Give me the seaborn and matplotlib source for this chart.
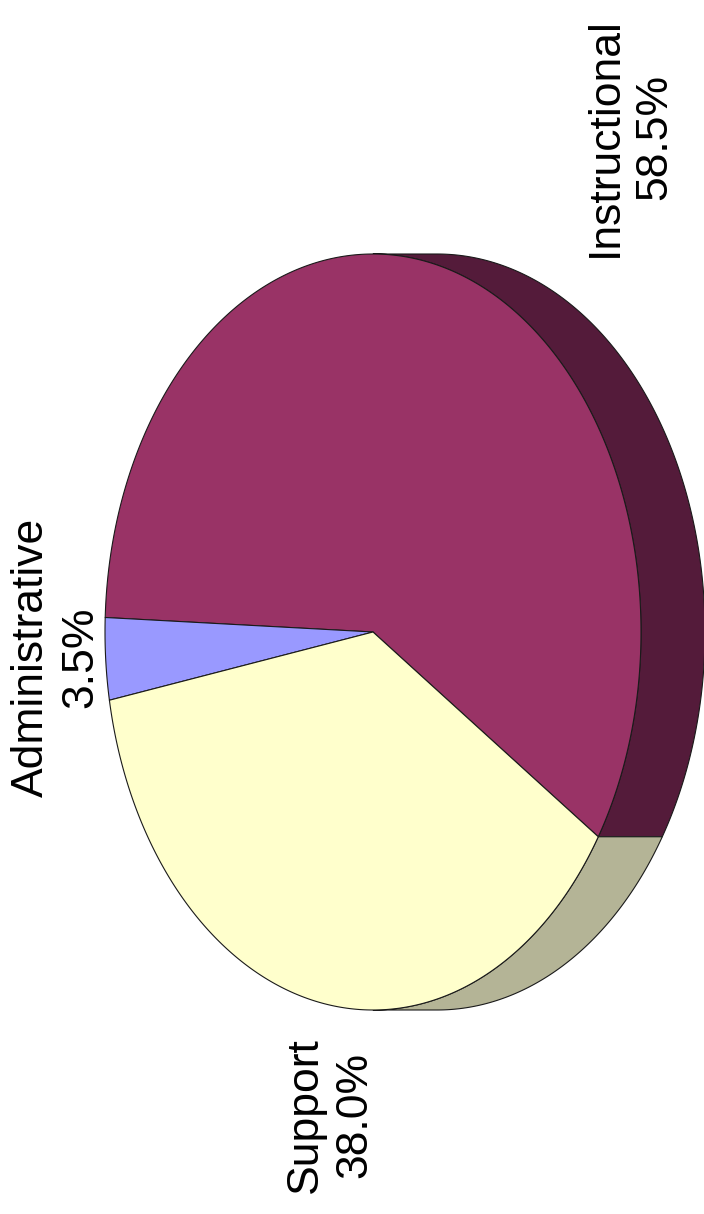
import numpy as np
import matplotlib
matplotlib.use("Agg")
import matplotlib.pyplot as plt
from matplotlib.patches import Polygon
import seaborn as sns

# Spending shares by category
categories = ["Instructional", "Administrative", "Support"]
shares = [58.5, 3.5, 38.0]
labels = ["Instructional\n58.5%", "Administrative\n3.5%", "Support\n38.0%"]

top_colors = ["#993366", "#9999ff", "#ffffcc"]
side_colors = ["#541b3a", "#6a6ab0", "#b4b496"]

sns.set_theme(style="white")
plt.rcParams["font.family"] = ["Liberation Sans", "DejaVu Sans"]

W, H = 704, 1214
fig = plt.figure(figsize=(W / 100, H / 100), dpi=100)
ax = fig.add_axes([0, 0, 1, 1])
ax.set_xlim(0, W)
ax.set_ylim(H, 0)
ax.set_axis_off()

# Pie geometry (tilted disc, thickness extruding to the right)
cx, cy = 373.0, 632.0
rx, ry = 268.0, 378.0
depth = 64.0
start = -32.8  # degrees, counter-clockwise


def rim(t_deg, dx=0.0):
    t = np.radians(t_deg)
    return np.column_stack([cx + dx + rx * np.cos(t), cy - ry * np.sin(t)])


vals = np.asarray(shares, dtype=float)
spans = 360.0 * vals / vals.sum()
bounds = start + np.concatenate([[0.0], np.cumsum(spans)])

edge_kw = dict(edgecolor="#1a1a1a", linewidth=0.8, joinstyle="round")

# Side walls: only the part of the rim facing +x (-90..90 deg) is visible
for i in range(len(vals)):
    t1, t2 = bounds[i], bounds[i + 1]
    for shift in (-360.0, 0.0, 360.0):
        a, b = max(t1 + shift, -90.0), min(t2 + shift, 90.0)
        if b <= a:
            continue
        ts = np.linspace(a, b, 200)
        pts = np.vstack([rim(ts), rim(ts[::-1], depth)])
        ax.add_patch(Polygon(pts, closed=True, facecolor=side_colors[i], **edge_kw))

# Top face wedges
for i in range(len(vals)):
    ts = np.linspace(bounds[i], bounds[i + 1], 300)
    pts = np.vstack([[cx, cy], rim(ts)])
    ax.add_patch(Polygon(pts, closed=True, facecolor=top_colors[i], **edge_kw))

# Category labels
label_pos = [(630, 137), (56, 657), (330, 1115)]
for (x, y), lab in zip(label_pos, labels):
    ax.text(x, y, lab, rotation=90, ha="center", va="center",
            multialignment="center", fontsize=32, color="black",
            linespacing=1.25)

fig.savefig("out.png", dpi=100, facecolor="white")
